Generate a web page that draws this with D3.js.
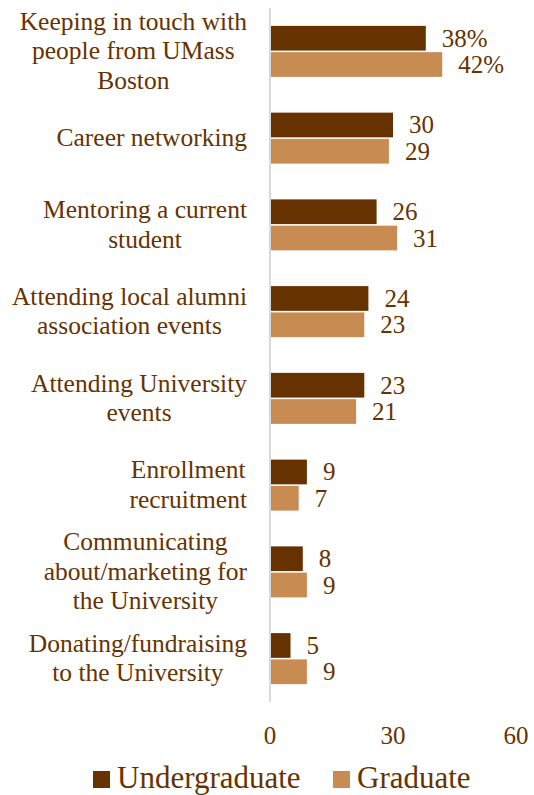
<!DOCTYPE html>
<html>
<head>
<meta charset="utf-8">
<script src="https://cdn.jsdelivr.net/npm/d3@7"></script>
<style>
  html, body { margin: 0; padding: 0; background: #fff; }
  svg { display: block; }
</style>
</head>
<body>
<svg id="chart" width="534" height="795"></svg>
<script>
const categories = [
  ["Keeping in touch with", "people from UMass", "Boston"],
  ["Career networking"],
  ["Mentoring a current", "student"],
  ["Attending local alumni", "association events"],
  ["Attending University", "events"],
  ["Enrollment", "recruitment"],
  ["Communicating", "about/marketing for", "the University"],
  ["Donating/fundraising", "to the University"]
];
const undergraduate = [38, 30, 26, 24, 23, 9, 8, 5];
const graduate = [42, 29, 31, 23, 21, 7, 9, 9];
const seriesNames = ["Undergraduate", "Graduate"];
const seriesColors = ["#663300", "#C88B52"];
const tickValues = [0, 30, 60];

const FONT = "Liberation Serif";
const TEXT_COLOR = "#663300";

const svg = d3.select("#chart");
const x = d3.scaleLinear().domain([0, 60]).range([270, 516]);
const y = d3.scaleBand().domain(d3.range(categories.length)).range([8, 702]).paddingInner(0).paddingOuter(0);
const inner = d3.scaleBand().domain([0, 1]).range([0, 51]).paddingInner(0.06);
const groupOffset = (y.bandwidth() - 51) / 2;

function txt(sel) {
  return sel.attr("font-family", FONT).attr("fill", TEXT_COLOR);
}

// axis line
svg.append("line")
  .attr("x1", x(0)).attr("x2", x(0))
  .attr("y1", 8).attr("y2", 702)
  .attr("stroke", "#D9D9D9").attr("stroke-width", 2);

const series = [undergraduate, graduate];
series.forEach((vals, si) => {
  const g = svg.append("g");
  g.selectAll("rect").data(vals).join("rect")
    .attr("x", x(0) + 1)
    .attr("y", (d, i) => y(i) + groupOffset + inner(si))
    .attr("width", d => x(d) - x(0) - 1)
    .attr("height", inner.bandwidth())
    .attr("fill", seriesColors[si]);
  g.selectAll("text").data(vals).join("text")
    .call(txt)
    .attr("x", d => x(d) + 16)
    .attr("y", (d, i) => y(i) + groupOffset + inner(si) + inner.bandwidth() / 2 + 8.5)
    .attr("font-size", 25)
    .text((d, i) => i === 0 ? d + "%" : d);
});

// category labels
const lh = 29.5;
const labelRight = 247;
categories.forEach((lines, i) => {
  const cy = y(i) + y.bandwidth() / 2;
  const g = svg.append("g");
  const texts = lines.map((ln, li) =>
    g.append("text")
      .call(txt)
      .attr("font-size", 25.5)
      .attr("y", cy + (li - (lines.length - 1) / 2) * lh + 8)
      .text(ln));
  const widths = texts.map(t => t.node().getComputedTextLength());
  const maxW = d3.max(widths);
  const cx = labelRight - maxW / 2;
  texts.forEach(t => t.attr("x", cx).attr("text-anchor", "middle"));
});

// x ticks
svg.append("g").selectAll("text").data(tickValues).join("text")
  .call(txt)
  .attr("x", d => x(d))
  .attr("y", 744)
  .attr("text-anchor", "middle")
  .attr("font-size", 25)
  .text(d => d);

// legend
const legendX = [93, 333];
seriesNames.forEach((name, si) => {
  svg.append("rect")
    .attr("x", legendX[si]).attr("y", 771)
    .attr("width", 17).attr("height", 17)
    .attr("fill", seriesColors[si]);
  svg.append("text")
    .call(txt)
    .attr("x", legendX[si] + 24).attr("y", 788)
    .attr("font-size", 31)
    .text(name);
});
</script>
</body>
</html>
